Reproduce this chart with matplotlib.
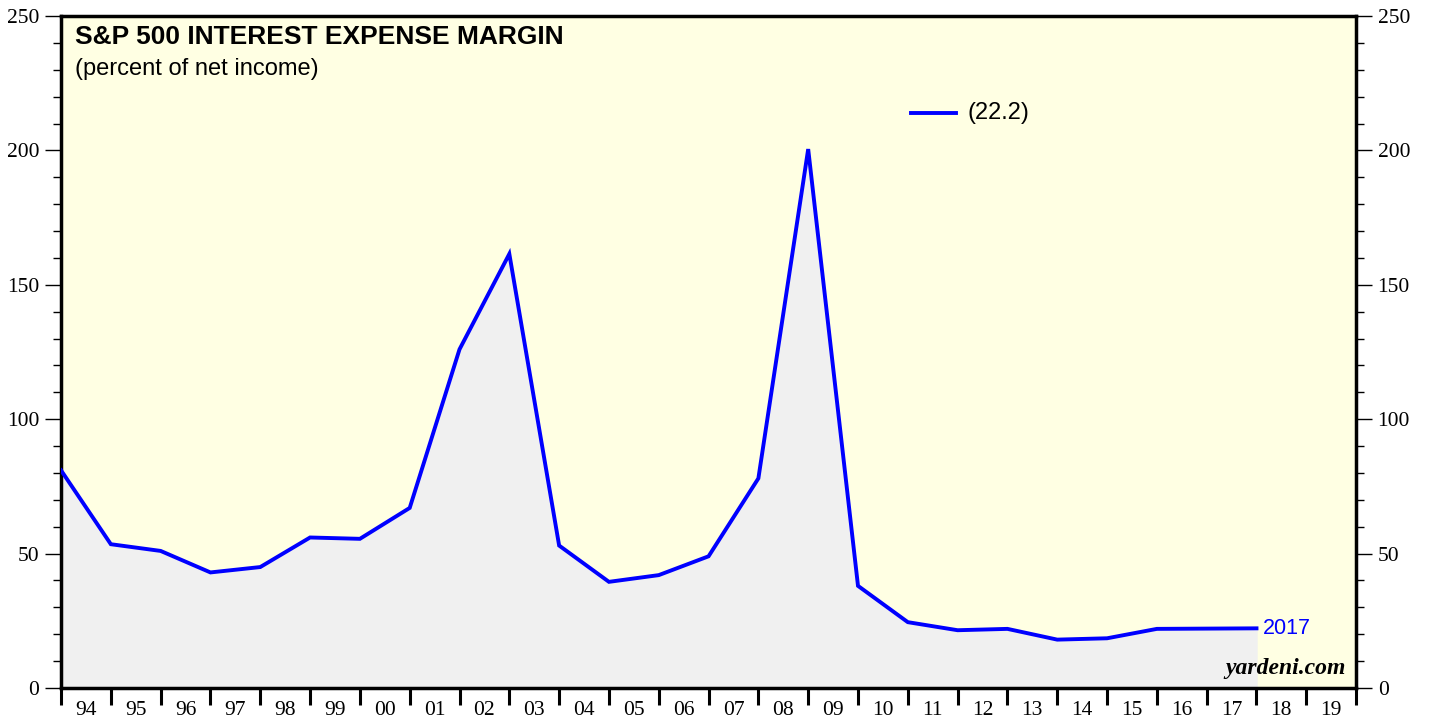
import numpy as np
import matplotlib.pyplot as plt
from matplotlib.ticker import MultipleLocator, FixedLocator, NullFormatter

# interest expense as percent of net income, plotted at year ends
years = list(range(1994, 2019))
margin = [81, 53.5, 51, 43, 45, 56, 55.5, 67, 126, 161.5, 53, 39.5, 42, 49,
          78, 200.5, 38, 24.5, 21.5, 22, 18, 18.5, 22, 22.1, 22.2]
year_labels = ["94", "95", "96", "97", "98", "99", "00", "01", "02", "03",
               "04", "05", "06", "07", "08", "09", "10", "11", "12", "13",
               "14", "15", "16", "17", "18", "19"]

fig = plt.figure(figsize=(14.29, 7.19), dpi=100)
ax = fig.add_axes([0.0427, 0.0431, 0.9063, 0.9346])
ax.set_facecolor("#ffffe3")

ax.fill_between(years, 0, margin, color="#f0f0f0", zorder=1)
ax.plot(years, margin, color="#0000ff", lw=2.8, zorder=3, solid_joinstyle="miter")

ax.set_xlim(1994, 2020)
ax.set_ylim(0, 250)

# y axis ticks on both sides
ax.yaxis.set_major_locator(MultipleLocator(50))
ax.yaxis.set_minor_locator(MultipleLocator(10))
ax.tick_params(axis="y", which="major", direction="out", length=11.5, width=1,
               labelsize=15.5, left=True, right=True, labelleft=True, labelright=True, pad=4)
ax.tick_params(axis="y", which="minor", direction="out", length=6, width=1,
               left=True, right=True)
for lab in ax.get_yticklabels():
    lab.set_fontfamily("Liberation Serif")

# x axis: tick marks at year boundaries, labels at mid-year
ax.xaxis.set_major_locator(FixedLocator(np.arange(1994, 2021)))
ax.xaxis.set_major_formatter(NullFormatter())
ax.xaxis.set_minor_locator(FixedLocator(np.arange(1994, 2020) + 0.5))
ax.set_xticklabels(year_labels, minor=True)
ax.tick_params(axis="x", which="major", direction="out", length=12, width=2.2)
ax.tick_params(axis="x", which="minor", length=0, labelsize=15.5, pad=9)
for lab in ax.get_xticklabels(minor=True):
    lab.set_fontfamily("Liberation Serif")

for sp in ax.spines.values():
    sp.set_linewidth(2.5)

ax.text(0.011, 0.987, "S&P 500 INTEREST EXPENSE MARGIN", transform=ax.transAxes,
        fontsize=19, fontweight="bold", family="Liberation Sans", va="top")
ax.text(0.011, 0.937, "(percent of net income)", transform=ax.transAxes,
        fontsize=17, family="Liberation Sans", va="top")

# legend
ax.plot([0.656, 0.691], [0.856, 0.856], transform=ax.transAxes, color="#0000ff", lw=2.8)
ax.text(0.700, 0.856, "(22.2)", transform=ax.transAxes, fontsize=17,
        family="Liberation Sans", va="center")

ax.text(years[-1] + 0.12, margin[-1], "2017", color="#0000ff", fontsize=15.5,
        family="Liberation Sans", va="center")
ax.text(0.992, 0.014, "yardeni.com", transform=ax.transAxes, ha="right", va="bottom",
        fontsize=17, family="Liberation Serif", fontweight="bold", style="italic")

fig.savefig("out.png", dpi=100)
